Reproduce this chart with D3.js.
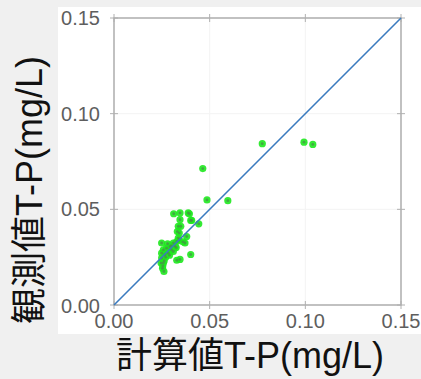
<!DOCTYPE html>
<html>
<head>
<meta charset="utf-8">
<script src="https://cdn.jsdelivr.net/npm/d3@7"></script>
<style>
  body { margin: 0; background: #f0f0f0; }
  svg { display: block; }
</style>
</head>
<body>
<div id="chart"></div>
<script>
const width = 421;
const height = 379;

const calcTP = [0.0775, 0.0993, 0.1039, 0.0464, 0.0486, 0.0595, 0.0443, 0.0401, 0.0388,
  0.0345, 0.0312, 0.0394, 0.0406, 0.0345, 0.0349, 0.0341, 0.0336, 0.0371, 0.0380, 0.0249,
  0.0401, 0.0345, 0.0328, 0.0258, 0.0275, 0.0293, 0.0310, 0.0328, 0.0267, 0.0284, 0.0301,
  0.0249, 0.0258, 0.0254, 0.0261, 0.0249, 0.0319, 0.0310, 0.0336, 0.0331, 0.0246, 0.0262,
  0.0290, 0.0300, 0.0270, 0.0340, 0.0325, 0.0255, 0.0280, 0.0360];
const obsTP = [0.0843, 0.0851, 0.0839, 0.0713, 0.0549, 0.0545, 0.0424, 0.0442, 0.0481,
  0.0481, 0.0477, 0.0477, 0.0442, 0.0446, 0.0411, 0.0376, 0.0350, 0.0324, 0.0358, 0.0324,
  0.0264, 0.0238, 0.0234, 0.0288, 0.0297, 0.0306, 0.0324, 0.0332, 0.0262, 0.0271, 0.0288,
  0.0245, 0.0219, 0.0192, 0.0175, 0.0271, 0.0306, 0.0280, 0.0411, 0.0384, 0.0219, 0.0230,
  0.0260, 0.0310, 0.0250, 0.0340, 0.0300, 0.0205, 0.0320, 0.0330];
const ticks = [0, 0.05, 0.10, 0.15];
const xTitle = "計算値T-P(mg/L)";
const yTitle = "観測値T-P(mg/L)";

const svg = d3.select("#chart").append("svg")
  .attr("width", width)
  .attr("height", height);

// white plot panel
svg.append("rect")
  .attr("x", 58).attr("y", 7)
  .attr("width", width - 58).attr("height", 327)
  .attr("fill", "#fff");

const x = d3.scaleLinear().domain([0, 0.15]).range([114, 401]);
const y = d3.scaleLinear().domain([0, 0.15]).range([305, 18]);

const g = svg.append("g");

// faint grid
g.selectAll(".gx").data(ticks.slice(1, 3)).join("line")
  .attr("x1", d => x(d)).attr("x2", d => x(d))
  .attr("y1", y(0)).attr("y2", y(0.15))
  .attr("stroke", "#f3f3f3");
g.selectAll(".gy").data(ticks.slice(1, 3)).join("line")
  .attr("y1", d => y(d)).attr("y2", d => y(d))
  .attr("x1", x(0)).attr("x2", x(0.15))
  .attr("stroke", "#f3f3f3");

// frame
g.append("rect")
  .attr("x", x(0)).attr("y", y(0.15))
  .attr("width", x(0.15) - x(0)).attr("height", y(0) - y(0.15))
  .attr("fill", "none")
  .attr("stroke", "#a0a0a0")
  .attr("stroke-width", 1.3);

// tick crosses on all four sides
const tk = 4;
ticks.forEach(t => {
  [y(0), y(0.15)].forEach(yy => {
    g.append("line").attr("x1", x(t)).attr("x2", x(t))
      .attr("y1", yy - tk).attr("y2", yy + tk)
      .attr("stroke", "#b0b0b0");
  });
  [x(0), x(0.15)].forEach(xx => {
    g.append("line").attr("y1", y(t)).attr("y2", y(t))
      .attr("x1", xx - tk).attr("x2", xx + tk)
      .attr("stroke", "#b0b0b0");
  });
});

const fmt = d3.format(".2f");

g.selectAll(".xl").data(ticks).join("text")
  .attr("x", d => x(d))
  .attr("y", 328)
  .attr("text-anchor", "middle")
  .attr("font-family", "Liberation Sans, Arial, sans-serif")
  .attr("font-size", 20)
  .attr("fill", "#5e5e5e")
  .text(fmt);

g.selectAll(".yl").data(ticks).join("text")
  .attr("x", 100)
  .attr("y", d => y(d) + 7 + (d === 0 ? 1 : 0))
  .attr("text-anchor", "end")
  .attr("font-family", "Liberation Sans, Arial, sans-serif")
  .attr("font-size", 20)
  .attr("fill", "#5e5e5e")
  .text(fmt);

// points
const pts = calcTP.map((c, i) => ({c: c, o: obsTP[i]}));
g.selectAll(".pt").data(pts).join("circle")
  .attr("cx", d => x(d.c))
  .attr("cy", d => y(d.o))
  .attr("r", 3.6)
  .attr("fill", "#1ee81e")
  .attr("opacity", 0.9);
g.selectAll(".pc").data(pts).join("circle")
  .attr("cx", d => x(d.c))
  .attr("cy", d => y(d.o))
  .attr("r", 1.4)
  .attr("fill", "#4a8a4a")
  .attr("opacity", 0.7);

// 1:1 line above the points
g.append("line")
  .attr("x1", x(0)).attr("y1", y(0))
  .attr("x2", x(0.15)).attr("y2", y(0.15))
  .attr("stroke", "#3a7bbf")
  .attr("stroke-width", 1.6);

const titleFont = "Liberation Sans, Arial, Noto Sans CJK JP, sans-serif";

svg.append("text")
  .attr("x", 250)
  .attr("y", 368)
  .attr("text-anchor", "middle")
  .attr("font-family", titleFont)
  .attr("font-size", 36)
  .attr("fill", "#111")
  .text(xTitle);

svg.append("text")
  .attr("transform", "translate(42,190) rotate(-90)")
  .attr("text-anchor", "middle")
  .attr("font-family", titleFont)
  .attr("font-size", 36)
  .attr("fill", "#111")
  .text(yTitle);
</script>
</body>
</html>
